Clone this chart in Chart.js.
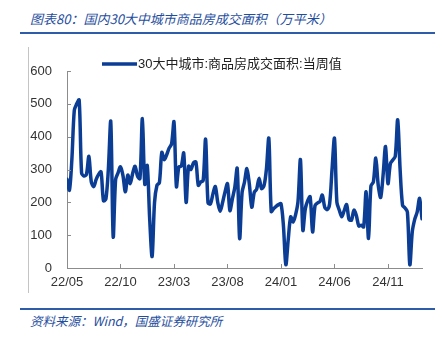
<!DOCTYPE html>
<html>
<head>
<meta charset="utf-8">
<script src="https://cdn.jsdelivr.net/npm/chart.js@4.4.1/dist/chart.umd.min.js"></script>
<style>
  body { margin: 0; width: 442px; height: 339px; background: #fff; position: relative; overflow: hidden; }
  .title { position: absolute; left: 30px; top: 9px; font: italic 13px "Noto Sans CJK SC", sans-serif; color: #1f4e9e; white-space: nowrap; }
  .rule { position: absolute; left: 20px; width: 415px; height: 2px; background: #2f5ca8; }
  .side { position: absolute; left: 28px; top: 47px; width: 1px; height: 246px; background: #c4c4c4; }
  .source { position: absolute; left: 30px; top: 311px; font: italic 12.5px "Noto Sans CJK SC", sans-serif; color: #1f4e9e; white-space: nowrap; }
  #wrap { position: absolute; left: 28px; top: 45px; width: 414px; height: 255px; }
</style>
</head>
<body>
<div class="title">图表80：国内30大中城市商品房成交面积（万平米）</div>
<div class="rule" style="top:32px"></div>
<div class="side"></div>
<div id="wrap"><canvas id="chart" width="414" height="255"></canvas></div>
<div class="rule" style="top:308px"></div>
<div class="source">资料来源：Wind，国盛证券研究所</div>
<script>
// 周度数据，2022-05-20 起
const seriesName = '30大中城市:商品房成交面积:当周值';
const tickLabels = ['22/05', '22/10', '23/03', '23/08', '24/01', '24/06', '24/11'];
const tickStep = 22;
const weeklyArea = [
  270, 237, 330, 480, 500, 512, 290, 280, 285, 340,
  262, 248, 270, 285, 293, 205, 210, 300, 446, 95,
  270, 290, 308, 282, 232, 283, 257, 288, 310, 280,
  272, 455, 255, 312, 150, 35, 200, 252, 260, 352,
  330, 345, 365, 378, 445, 248, 308, 310, 350, 200,
  310, 300, 320, 323, 252, 262, 266, 392, 198, 195,
  225, 248, 200, 173, 200, 232, 257, 175, 210, 245,
  303, 90, 230, 262, 303, 255, 185, 230, 240, 273,
  242, 250, 300, 395, 172, 181, 188, 193, 196, 130,
  10, 88, 156, 140, 162, 202, 330, 115, 180, 205,
  217, 110, 190, 198, 202, 222, 185, 178, 195, 300,
  395, 200, 176, 156, 175, 193, 148, 146, 176, 160,
  128, 130, 125, 232, 90, 250, 262, 335, 252, 215,
  283, 370, 257, 318, 329, 340, 451, 300, 191, 183,
  170, 10, 110, 148, 170, 212, 150
];

const weeks = [];
const start = new Date(2022, 4, 20);
for (let i = 0; i < weeklyArea.length; i++) {
  const d = new Date(start.getTime() + i * 7 * 86400000);
  weeks.push(d.getFullYear() + '-' + String(d.getMonth() + 1).padStart(2, '0') + '-' + String(d.getDate()).padStart(2, '0'));
}
const points = weeklyArea.map((v, i) => ({ x: i, y: v }));

const lineColor = '#0b3d95';
const axisColor = '#8c8c8c';

// 刻度线朝内 + 图例
const extras = {
  id: 'extras',
  afterDraw(chart) {
    const c = chart.ctx;
    const xs = chart.scales.x, ys = chart.scales.y;
    c.save();
    c.strokeStyle = axisColor;
    c.lineWidth = 1;
    xs.ticks.forEach(t => {
      const px = Math.round(xs.getPixelForValue(t.value)) + 0.5;
      c.beginPath(); c.moveTo(px, ys.bottom); c.lineTo(px, ys.bottom - 4); c.stroke();
    });
    ys.ticks.forEach(t => {
      const py = Math.round(ys.getPixelForValue(t.value)) + 0.5;
      c.beginPath(); c.moveTo(xs.left, py); c.lineTo(xs.left + 4, py); c.stroke();
    });
    // legend
    c.strokeStyle = lineColor;
    c.lineWidth = 3.5;
    c.beginPath(); c.moveTo(74, 19); c.lineTo(109, 19); c.stroke();
    c.fillStyle = '#222';
    c.font = '13px "Liberation Sans", "Noto Sans CJK SC", sans-serif';
    c.textBaseline = 'middle';
    c.fillText(seriesName, 110, 19.5);
    c.restore();
  }
};

new Chart(document.getElementById('chart'), {
  type: 'line',
  data: {
    labels: weeks,
    datasets: [{
      label: seriesName,
      data: points,
      borderColor: lineColor,
      borderWidth: 3.5,
      pointRadius: 0,
      tension: 0.3,
      borderCapStyle: 'round',
      borderJoinStyle: 'round',
      fill: false
    }]
  },
  options: {
    responsive: false,
    animation: false,
    layout: { padding: { top: 26, right: 20, left: 0, bottom: 0 } },
    plugins: { legend: { display: false }, tooltip: { enabled: false } },
    scales: {
      x: {
        type: 'linear',
        min: 0,
        max: weeklyArea.length - 1,
        afterBuildTicks: scale => {
          scale.ticks = tickLabels.map((_, i) => ({ value: i * tickStep }));
        },
        afterFit: scale => { scale.height = 32; },
        ticks: {
          autoSkip: false,
          maxRotation: 0,
          padding: 7,
          color: '#333',
          font: { family: '"Liberation Sans", Arial, sans-serif', size: 13 },
          callback: (v) => tickLabels[Math.round(v / tickStep)]
        },
        grid: { display: true, drawOnChartArea: false, drawTicks: false },
        border: { display: true, color: axisColor, width: 1 }
      },
      y: {
        min: 0,
        max: 600,
        afterFit: scale => { scale.width = 39; },
        ticks: {
          stepSize: 100,
          padding: 15,
          color: '#333',
          font: { family: '"Liberation Sans", Arial, sans-serif', size: 13 }
        },
        grid: { display: true, drawOnChartArea: false, drawTicks: false },
        border: { display: true, color: axisColor, width: 1 }
      }
    }
  },
  plugins: [extras]
});
</script>
</body>
</html>
